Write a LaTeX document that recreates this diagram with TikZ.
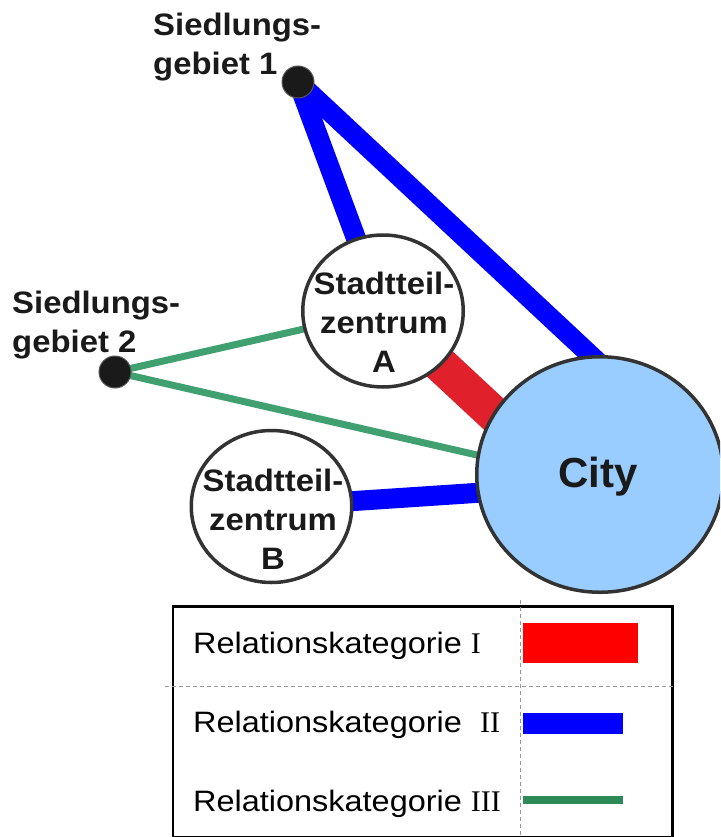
\documentclass[tikz,border=0pt]{standalone}
\usepackage{fontspec}
\setmainfont{Liberation Sans}
\newfontfamily\numfont{Liberation Serif}
\newfontfamily\lblfont[FakeStretch=1.06]{Liberation Sans}
\newfontfamily\legfont[FakeStretch=1.1]{Liberation Sans}
\usetikzlibrary{shapes.geometric}
\pgfdeclarelayer{bg}
\pgfsetlayers{bg,main}
\definecolor{relblue}{HTML}{0000FF}
\definecolor{relred}{HTML}{E0202A}
\definecolor{relgreen}{HTML}{40A070}
\definecolor{legred}{HTML}{FF0000}
\definecolor{leggreen}{HTML}{2E8B57}
\definecolor{cityfill}{HTML}{99CCFF}
\definecolor{rim}{HTML}{333333}
\definecolor{ink}{HTML}{1A1A1A}
\tikzset{
  centre/.style={ellipse, draw=rim, line width=3.5pt, fill=white, inner sep=0pt,
    minimum width=160.5pt, minimum height=152pt},
  citynode/.style={ellipse, draw=rim, line width=3.5pt, fill=cityfill, inner sep=0pt,
    minimum width=246.5pt, minimum height=235.5pt},
  settle/.style={circle, fill=ink, draw=black!65, line width=1pt, inner sep=0pt, minimum size=32pt},
  lbl/.style={inner sep=0pt, text=ink, font=\lblfont\bfseries\fontsize{31}{39}\selectfont},
  legtext/.style={inner sep=0pt, anchor=base west, text=black, font=\legfont\fontsize{29.5}{35}\selectfont},
  num/.style={font=\numfont\fontsize{30}{35}\selectfont},
  relI/.style={relred, line width=36pt},
  relII/.style={relblue, line width=20pt},
  relIII/.style={relgreen, line width=7pt},
  grid/.style={draw=black!40, line width=1pt, dash pattern=on 4pt off 3pt},
}
\begin{document}
\begin{tikzpicture}[x=1pt,y=-1pt]
\useasboundingbox (0,0) rectangle (720,837);
\clip (0,0) rectangle (720,837);

% nodes
\node[settle] (s1) at (298,82) {};
\node[settle] (s2) at (115,372) {};
\node[centre] (a) at (383,311) {};
\node[centre] (b) at (271.5,506.5) {};
\node[citynode] (city) at (600,474.5) {};

\node[lbl, align=left, anchor=north west] (s1t) at (153,12.5) {Siedlungs-\\gebiet 1};
\node[lbl, align=left, anchor=north west] (s2t) at (12,290.5) {Siedlungs-\\gebiet 2};
\node[lbl, align=center] (at) at (384,322.5) {Stadtteil-\\zentrum\\A};
\node[lbl, align=center] (bt) at (273,519.5) {Stadtteil-\\zentrum\\B};
\node[inner sep=0pt, text=ink, font=\bfseries\fontsize{42}{50}\selectfont] (ct) at (598,477) {City};

% free ends of connectors inside the City circle
\coordinate (c1) at (600,364);
\coordinate (cA) at (500,420);
\coordinate (c2) at (490,458);
\coordinate (cB) at (490,492);

\begin{pgfonlayer}{bg}
  \draw[relII] (s1.center) -- (a.center);
  \draw[relII] (s1.center) -- (c1);
  \draw[relI] (a.center) -- (cA);
  \draw[relIII] (s2.center) -- (a.center);
  \draw[relIII] (s2.center) -- (c2);
  \draw[relII] (b.center) -- (cB);
\end{pgfonlayer}

% legend
\node[draw=black, line width=2.5pt, minimum width=499.5pt, minimum height=231pt, inner sep=0pt, anchor=north west] (leg) at (171.5,605) {};
\coordinate (h1) at (165,686);
\coordinate (h2) at (676,686);
\coordinate (v1) at (520,600);
\coordinate (v2) at (520,837);
\draw[grid] (h1) -- (h2);
\draw[grid] (v1) -- (v2);
\fill[legred] (523,623) rectangle (638,663);
\fill[relblue] (523,713) rectangle (623,734);
\fill[leggreen] (523,796) rectangle (623,804);
\node[legtext] (l1) at (193,653) {Relationskategorie {\numfont\fontsize{30}{35}\selectfont I}};
\node[legtext] (l2) at (193,732) {Relationskategorie \ {\numfont\fontsize{30}{35}\selectfont II}};
\node[legtext] (l3) at (193,811) {Relationskategorie {\numfont\fontsize{30}{35}\selectfont III}};
\end{tikzpicture}
\end{document}
